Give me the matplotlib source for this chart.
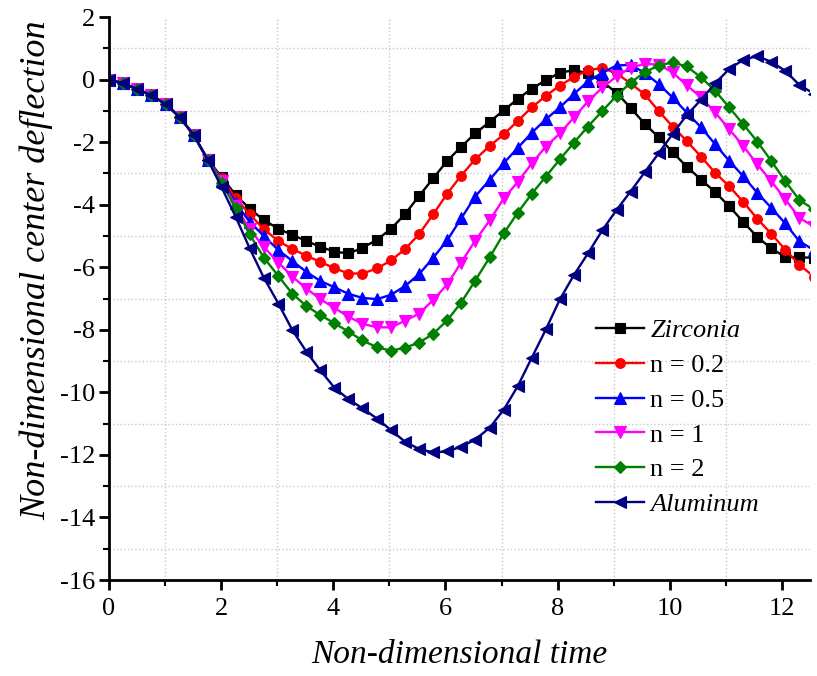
import matplotlib
matplotlib.use("Agg")
import matplotlib.pyplot as plt
from matplotlib.ticker import MultipleLocator

time = [0.00, 0.25, 0.50, 0.75, 1.01, 1.26, 1.51, 1.76, 2.01, 2.26,
        2.51, 2.76, 3.02, 3.27, 3.52, 3.77, 4.02, 4.27, 4.52, 4.78,
        5.03, 5.28, 5.53, 5.78, 6.03, 6.28, 6.53, 6.79, 7.04, 7.29,
        7.54, 7.79, 8.04, 8.29, 8.54, 8.80, 9.05, 9.30, 9.55, 9.80,
        10.05, 10.30, 10.56, 10.81, 11.06, 11.31, 11.56, 11.81, 12.06, 12.31,
        12.57]

zirconia = [0, -0.12, -0.3, -0.5, -0.78, -1.2, -1.77, -2.55, -3.12, -3.69,
            -4.13, -4.49, -4.77, -4.97, -5.16, -5.35, -5.5, -5.56, -5.38, -5.12,
            -4.77, -4.3, -3.72, -3.16, -2.6, -2.15, -1.72, -1.35, -0.98, -0.62,
            -0.29, -0.02, 0.22, 0.3, 0.2, -0.07, -0.42, -0.9, -1.41, -1.84,
            -2.32, -2.78, -3.2, -3.6, -4.05, -4.55, -5.03, -5.4, -5.67, -5.68,
            -5.7]

n02 = [0, -0.12, -0.3, -0.5, -0.78, -1.2, -1.77, -2.56, -3.15, -3.8,
       -4.31, -4.78, -5.16, -5.42, -5.63, -5.83, -6.03, -6.2, -6.2, -6.04,
       -5.78, -5.42, -4.94, -4.31, -3.65, -3.07, -2.55, -2.12, -1.75, -1.32,
       -0.89, -0.52, -0.19, 0.08, 0.3, 0.37, 0.2, -0.12, -0.47, -1.0,
       -1.5, -1.96, -2.47, -2.98, -3.41, -3.91, -4.45, -4.93, -5.44, -5.92,
       -6.3]

n05 = [0, -0.12, -0.3, -0.5, -0.78, -1.2, -1.77, -2.56, -3.2, -3.95,
       -4.55, -5.0, -5.45, -5.8, -6.15, -6.44, -6.64, -6.85, -6.98, -7.02,
       -6.88, -6.6, -6.22, -5.7, -5.14, -4.44, -3.74, -3.2, -2.67, -2.18,
       -1.7, -1.27, -0.89, -0.46, -0.06, 0.22, 0.45, 0.47, 0.22, -0.14,
       -0.57, -1.05, -1.53, -2.07, -2.6, -3.09, -3.62, -4.1, -4.6, -5.17,
       -5.45]

n1 = [0, -0.12, -0.3, -0.5, -0.78, -1.2, -1.77, -2.56, -3.25, -4.05,
      -4.79, -5.35, -5.85, -6.3, -6.68, -7.02, -7.3, -7.58, -7.81, -7.92,
      -7.92, -7.71, -7.48, -7.05, -6.55, -5.85, -5.15, -4.5, -3.8, -3.27,
      -2.68, -2.14, -1.72, -1.21, -0.7, -0.25, 0.1, 0.38, 0.5, 0.48,
      0.23, -0.18, -0.57, -1.05, -1.59, -2.12, -2.71, -3.25, -3.83, -4.42,
      -4.7]

n2 = [0, -0.12, -0.3, -0.5, -0.78, -1.2, -1.77, -2.56, -3.3, -4.1,
      -4.95, -5.69, -6.28, -6.85, -7.24, -7.53, -7.79, -8.06, -8.34, -8.56,
      -8.67, -8.57, -8.41, -8.13, -7.7, -7.13, -6.43, -5.68, -4.92, -4.25,
      -3.65, -3.1, -2.55, -2.02, -1.5, -1.0, -0.52, -0.1, 0.23, 0.45,
      0.55, 0.42, 0.07, -0.36, -0.89, -1.43, -1.98, -2.6, -3.25, -3.85,
      -4.15]

aluminum = [0, -0.12, -0.3, -0.5, -0.78, -1.2, -1.77, -2.56, -3.45, -4.39,
            -5.4, -6.33, -7.16, -8.01, -8.7, -9.3, -9.85, -10.22, -10.51, -10.84,
            -11.21, -11.58, -11.81, -11.92, -11.89, -11.74, -11.51, -11.13, -10.55, -9.8,
            -8.89, -7.99, -7.03, -6.25, -5.56, -4.81, -4.17, -3.58, -2.97, -2.36,
            -1.74, -1.14, -0.64, -0.12, 0.34, 0.63, 0.75, 0.57, 0.28, -0.17,
            -0.45]

labels = ["Zirconia", "n = 0.2", "n = 0.5", "n = 1", "n = 2", "Aluminum"]
italic_labels = ["Zirconia", "Aluminum"]

plt.rcParams['font.family'] = ['Liberation Serif', 'DejaVu Serif']
plt.rcParams['axes.unicode_minus'] = False

fig = plt.figure(figsize=(8.17, 6.76), dpi=100)
ax = fig.add_axes([0.1334, 0.142, 0.858, 0.8328])

series = [zirconia, n02, n05, n1, n2, aluminum]
styles = [("black", "s", 7), ("red", "o", 7), ("blue", "^", 8),
          ("magenta", "v", 8), ("green", "D", 6.5), ("#000080", "<", 8)]
for vals, lab, (col, mk, ms) in zip(series, labels, styles):
    ax.plot(time, vals, color=col, marker=mk, markersize=ms, linewidth=1.7,
            label=lab, markeredgewidth=0.8)

ax.set_xlim(0, 12.5)
ax.set_ylim(-16, 2)
ax.xaxis.set_major_locator(MultipleLocator(2))
ax.xaxis.set_minor_locator(MultipleLocator(1))
ax.yaxis.set_major_locator(MultipleLocator(2))
ax.yaxis.set_minor_locator(MultipleLocator(1))
ax.grid(which='minor', color='#c8c8c8', linestyle=':', linewidth=1.0)
ax.grid(which='major', visible=False)
ax.set_axisbelow(True)

for s in ['top', 'right']:
    ax.spines[s].set_visible(False)
for s in ['left', 'bottom']:
    ax.spines[s].set_linewidth(2.0)

ax.tick_params(which='major', direction='out', length=7, width=2, labelsize=19)
ax.tick_params(axis='x', which='major', pad=6)
ax.tick_params(axis='y', which='major', pad=3)
ax.tick_params(which='minor', direction='out', length=4, width=1.5)

ax.set_xlabel("Non-dimensional time", fontsize=24, style='italic', labelpad=14)
ax.set_ylabel("Non-dimensional center deflection", fontsize=26, style='italic')
ax.yaxis.set_label_coords(-0.08, 0.55)

leg = ax.legend(loc='upper left', bbox_to_anchor=(0.68, 0.483), frameon=False,
                fontsize=19, handlelength=1.8, handletextpad=0.25,
                labelspacing=0.43, borderaxespad=0)
for t in leg.get_texts():
    if t.get_text() in italic_labels:
        t.set_style('italic')

fig.savefig("out.png", dpi=100)
